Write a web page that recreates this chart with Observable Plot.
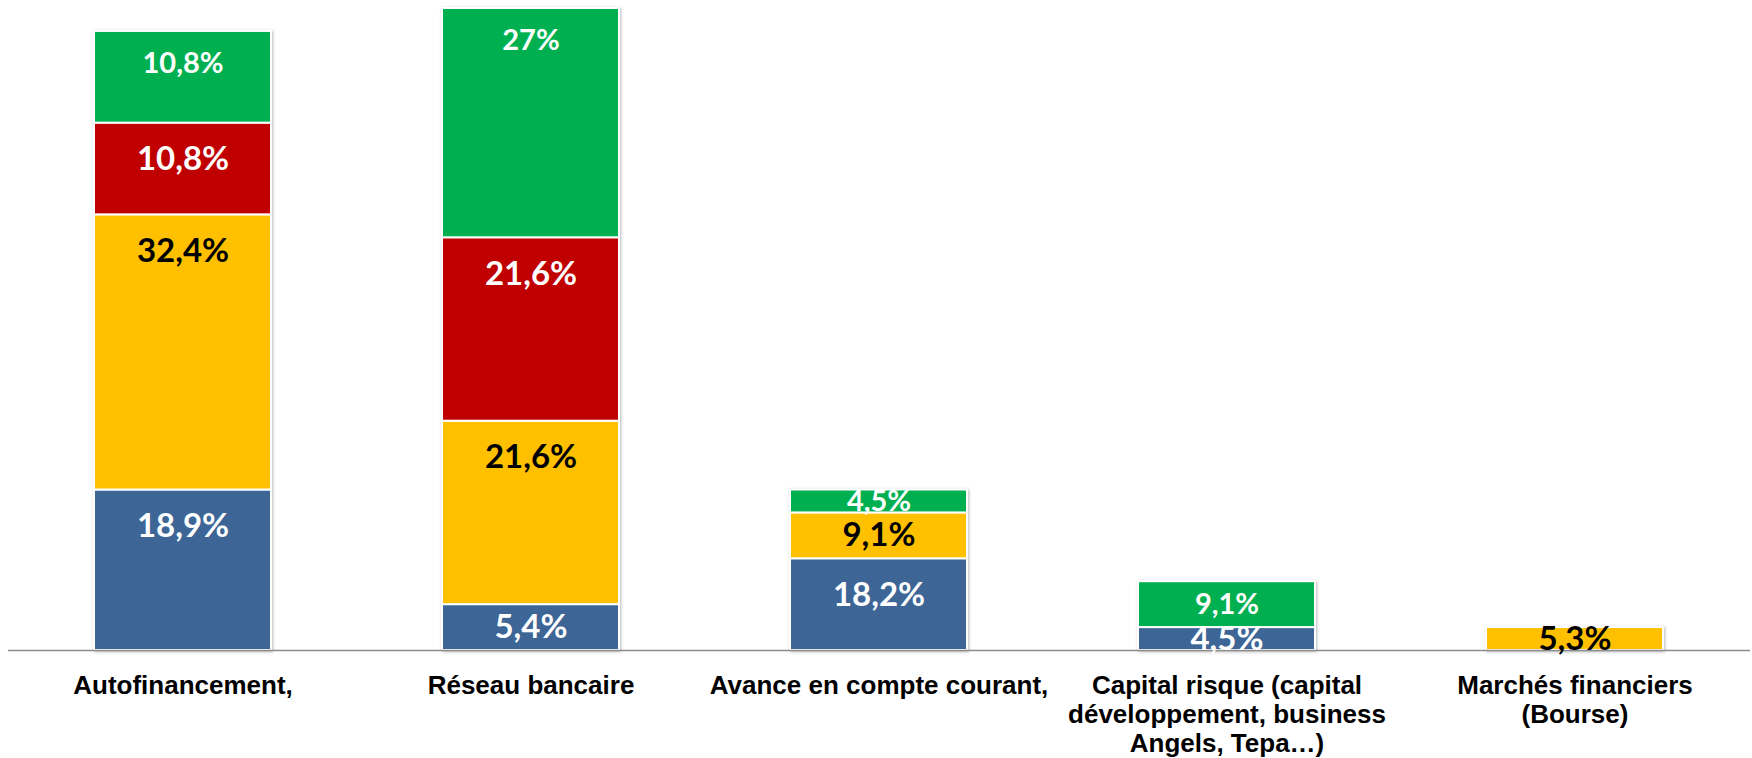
<!DOCTYPE html>
<html>
<head>
<meta charset="utf-8">
<script src="https://cdn.jsdelivr.net/npm/d3@7"></script>
<script src="https://cdn.jsdelivr.net/npm/@observablehq/plot@0.6"></script>
<style>
  html, body { margin: 0; padding: 0; background: #fff; }
  #chart svg { display: block; }
  g[aria-label="bar"] { filter: drop-shadow(1px 1px 1.5px rgba(0,0,0,0.28)); }
</style>
</head>
<body>
<div id="chart"></div>
<script>
// ---- Data ----
const categories = [
  "Autofinancement,",
  "Réseau bancaire",
  "Avance en compte courant,",
  "Capital risque (capital développement, business Angels, Tepa…)",
  "Marchés financiers (Bourse)"
];
const tickLabels = [
  "Autofinancement,",
  "Réseau bancaire",
  "Avance en compte courant,",
  "Capital risque (capital\ndéveloppement, business\nAngels, Tepa…)",
  "Marchés financiers\n(Bourse)"
];
const seriesNames = ["Série 1", "Série 2", "Série 3", "Série 4"]; // bottom → top
// segment heights (counts) per series
const serie1Values = [7, 2, 4, 1, 0];
const serie2Values = [12, 8, 2, 0, 1];
const serie3Values = [4, 8, 0, 0, 0];
const serie4Values = [4, 10, 1, 2, 0];
// printed labels per series
const serie1Labels = ["18,9%", "5,4%", "18,2%", "4,5%", null];
const serie2Labels = ["32,4%", "21,6%", "9,1%", null, "5,3%"];
const serie3Labels = ["10,8%", "21,6%", null, null, null];
const serie4Labels = ["10,8%", "27%", "4,5%", "9,1%", null];

// ---- Styles ----
const seriesColors = ["#3D6696", "#FFC000", "#C00000", "#00B050"];
const labelColors = ["#ffffff", "#000000", "#ffffff", "#ffffff"];
const labelSizes = [33, 33, 33, 29];

// ---- Build table ----
const valuesBySeries = [serie1Values, serie2Values, serie3Values, serie4Values];
const labelsBySeries = [serie1Labels, serie2Labels, serie3Labels, serie4Labels];
const rows = [];
categories.forEach((c, i) => {
  let acc = 0;
  seriesNames.forEach((s, j) => {
    const v = valuesBySeries[j][i];
    if (v > 0) {
      rows.push({category: c, series: s, si: j, value: v, y1: acc, y2: acc + v, label: labelsBySeries[j][i]});
      acc += v;
    }
  });
});

const W = 1752, H = 758, mTop = 8, mBottom = 108, mLeft = 8, mRight = 2;
const yMax = 28;
const pxPerUnit = (H - mTop - mBottom) / yMax;
const labelRows = rows.filter(d => d.label).map(d => {
  const off = labelSizes[d.si] * 1.1 / pxPerUnit;
  return {...d, ly: Math.max(d.y2 - off, (d.y1 + d.y2) / 2)};
});

const chart = Plot.plot({
  width: W,
  height: H,
  marginTop: mTop,
  marginBottom: mBottom,
  marginLeft: mLeft,
  marginRight: mRight,
  style: {background: "#fff", color: "#000"},
  x: {domain: categories, paddingInner: 0.49, paddingOuter: 0.245, axis: null},
  y: {domain: [0, yMax], axis: null},
  color: {domain: seriesNames, range: seriesColors},
  marks: [
    Plot.barY(rows, {x: "category", y: "value", fill: "series", stroke: "white", strokeWidth: 2}),
    Plot.ruleY([0], {stroke: "#8c8c8c", strokeWidth: 1.5}),
    Plot.text(labelRows, {
      x: "category",
      y: "ly",
      text: "label",
      fill: d => labelColors[d.si],
      fontSize: d => labelSizes[d.si],
      fontWeight: "bold",
      fontFamily: "Lato, 'Noto Sans', sans-serif",
      lineAnchor: "middle"
    }),
    Plot.axisX({
      domain: categories,
      tickSize: 0,
      tickPadding: 23,
      tickFormat: d => tickLabels[categories.indexOf(d)],
      fontSize: 26,
      fontWeight: "bold",
      fontFamily: "'Liberation Sans', Arial, sans-serif",
      lineHeight: 1.12,
      fill: "#000",
      label: null
    })
  ]
});
document.getElementById("chart").appendChild(chart);
</script>
</body>
</html>
